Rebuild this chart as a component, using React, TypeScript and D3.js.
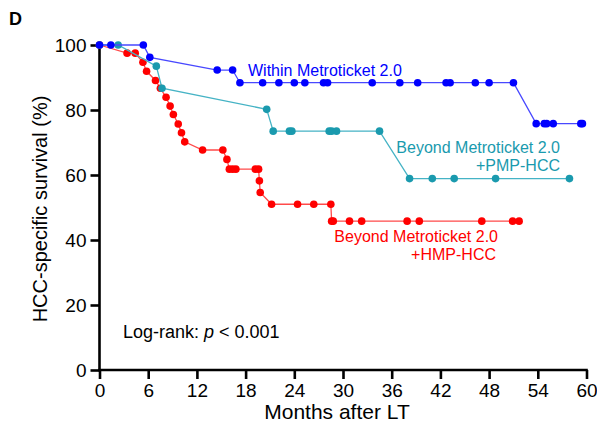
import { useEffect, useRef } from "react";
import * as d3 from "d3";

// Within Metroticket 2.0
const withinMonths = [0, 1.4, 5.4, 6.2, 14.5, 16.4, 17.3, 20.1, 22.1, 24.0, 25.3, 27.6, 28.1, 33.6, 37.0, 39.2, 42.7, 43.2, 46.3, 48.0, 51.0, 53.8, 54.8, 55.1, 55.9, 59.3, 59.5];
const withinSurv = [100, 100, 100, 96.2, 92.3, 92.3, 88.4, 88.4, 88.4, 88.4, 88.4, 88.4, 88.4, 88.4, 88.4, 88.4, 88.4, 88.4, 88.4, 88.4, 88.4, 75.8, 75.8, 75.8, 75.8, 75.8, 75.8];

// Beyond Metroticket 2.0 + PMP-HCC
const pmpMonths = [0, 2.3, 7.0, 7.7, 20.6, 21.4, 23.4, 23.7, 28.3, 28.6, 29.2, 34.5, 38.2, 41.0, 43.7, 48.8, 57.9];
const pmpSurv = [100, 100, 93.5, 86.7, 80.2, 73.5, 73.5, 73.5, 73.5, 73.5, 73.5, 73.5, 58.9, 58.9, 58.9, 58.9, 58.9];

// Beyond Metroticket 2.0 + HMP-HCC
const hmpMonths = [0, 3.4, 4.4, 5.35, 5.8, 6.9, 7.5, 8.2, 8.7, 9.1, 9.7, 10.1, 10.5, 12.7, 15.2, 15.7, 16.0, 16.4, 16.8, 19.2, 19.6, 19.7, 19.8, 21.2, 24.4, 26.4, 28.5, 28.6, 28.8, 30.8, 32.3, 37.9, 39.4, 47.1, 50.9, 51.7];
const hmpSurv = [100, 97.5, 97.5, 94.7, 91.9, 89.1, 86.7, 83.9, 81.2, 78.6, 75.7, 73.0, 70.2, 67.7, 67.7, 64.8, 61.8, 61.8, 61.8, 61.8, 61.8, 58.2, 54.6, 51.0, 51.0, 51.0, 51.0, 45.8, 45.8, 45.8, 45.8, 45.8, 45.8, 45.8, 45.8, 45.8];

const xTicks = [0, 6, 12, 18, 24, 30, 36, 42, 48, 54, 60];
const yTicks = [0, 20, 40, 60, 80, 100];

const App = () => {
  const svgRef = useRef<SVGSVGElement>(null);

  useEffect(() => {
    const svg = d3.select(svgRef.current);
    svg.selectAll("*").remove();
    svg.style("font-family", "'Liberation Sans', Arial, sans-serif");

    const x = d3.scaleLinear().domain([0, 60]).range([99.5, 586.5]);
    const y = d3.scaleLinear().domain([0, 100]).range([370, 45]);

    // axes
    const xAxis = svg.append("g")
      .attr("transform", "translate(0,370)")
      .call(d3.axisBottom(x).tickValues(xTicks).tickSize(9).tickPadding(5).tickSizeOuter(0));
    const yAxis = svg.append("g")
      .attr("transform", "translate(99.5,0)")
      .call(d3.axisLeft(y).tickValues(yTicks).tickSize(9).tickPadding(4).tickSizeOuter(0));
    [xAxis, yAxis].forEach(g => {
      g.select(".domain").attr("stroke", "#000").attr("stroke-width", 2.6);
      g.selectAll(".tick line").attr("stroke", "#000").attr("stroke-width", 2.6);
      g.selectAll(".tick text").attr("fill", "#000").style("font-size", "19px")
        .style("font-family", "'Liberation Sans', Arial, sans-serif");
    });
    xAxis.select(".domain").attr("d", `M${x(0) - 1.3},0H${x(60) + 1.3}`);
    yAxis.select(".domain").attr("d", `M0,${y(0) + 1.3}V${y(100) - 1.3}`);

    const series = [
      { m: hmpMonths, s: hmpSurv, dot: "#ff0000", line: "#ff4a4a" },
      { m: pmpMonths, s: pmpSurv, dot: "#1a9aae", line: "#45b3c5" },
      { m: withinMonths, s: withinSurv, dot: "#0000ff", line: "#4848ff" },
    ];

    const line = d3.line<[number, number]>().x(d => x(d[0])).y(d => y(d[1]));
    series.forEach(sr => {
      const pts = sr.m.map((v, i) => [v, sr.s[i]] as [number, number]);
      svg.append("path").attr("d", line(pts)).attr("fill", "none")
        .attr("stroke", sr.line).attr("stroke-width", 1.3);
      svg.append("g").selectAll("circle").data(pts).join("circle")
        .attr("cx", d => x(d[0])).attr("cy", d => y(d[1])).attr("r", 3.8)
        .attr("fill", sr.dot);
    });

    const txt = (tx: number, ty: number, s: string, color: string, size: number, anchor = "start") =>
      svg.append("text").attr("x", tx).attr("y", ty).attr("fill", color)
        .attr("text-anchor", anchor).style("font-size", `${size}px`).text(s);

    txt(248, 76, "Within Metroticket 2.0", "#0000ff", 16);
    txt(560, 153, "Beyond Metroticket 2.0", "#1a9aae", 16, "end");
    txt(560, 171, "+PMP-HCC", "#1a9aae", 16, "end");
    txt(498, 242, "Beyond Metroticket 2.0", "#ff0000", 16, "end");
    txt(496, 260, "+HMP-HCC", "#ff0000", 16, "end");

    const lr = svg.append("text").attr("x", 123).attr("y", 338).attr("fill", "#000").style("font-size", "18px");
    lr.append("tspan").text("Log-rank: ");
    lr.append("tspan").style("font-style", "italic").text("p");
    lr.append("tspan").text(" < 0.001");

    txt(337, 419, "Months after LT", "#000", 21, "middle");
    svg.append("text").attr("transform", "translate(47,209) rotate(-90)")
      .attr("text-anchor", "middle").attr("fill", "#000").style("font-size", "20px")
      .text("HCC-specific survival (%)");
    txt(9, 25, "D", "#000", 18).style("font-weight", "bold");
  }, []);

  return <svg ref={svgRef} width={597} height={443} style={{ position: "absolute", left: 0, top: 0 }} />;
};

export default App;
